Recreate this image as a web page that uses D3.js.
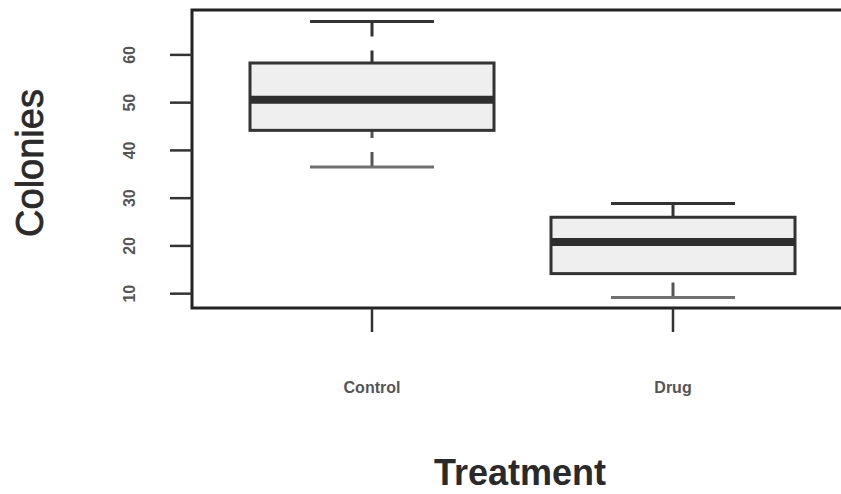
<!DOCTYPE html>
<html>
<head>
<meta charset="utf-8">
<script src="https://cdn.jsdelivr.net/npm/d3@7/dist/d3.min.js"></script>
<style>
  body { margin: 0; background: #fff; }
  svg { display: block; font-family: 'Liberation Sans', Arial, sans-serif; }
</style>
</head>
<body>
<div id="chart"></div>
<script>
// box plot data
const treatments = ['Control', 'Drug'];
const whiskerLow = [36.5, 9.2];
const q1 = [44.2, 14.2];
const medians = [50.6, 20.8];
const q3 = [58.3, 26.0];
const whiskerHigh = [67.0, 28.9];
const yTicks = [10, 20, 30, 40, 50, 60];

const width = 841;
const height = 494;
const plot = { left: 192, top: 10, right: 905, bottom: 308 };

const svg = d3.select('#chart')
    .append('svg')
    .attr('width', width)
    .attr('height', height);

const y = d3.scaleLinear()
    .domain([7.0, 69.4])
    .range([plot.bottom, plot.top]);

const x = d3.scalePoint()
    .domain(treatments)
    .range([372, 673]);

const boxHalf = 122;
const capHalf = 62;

const boxes = treatments.map((t, i) => ({
  name: t,
  lo: whiskerLow[i], q1: q1[i], med: medians[i], q3: q3[i], hi: whiskerHigh[i]
}));

const g = svg.append('g');

// whiskers (dashed, from cap to box)
g.selectAll('line.wup')
    .data(boxes)
    .enter()
    .append('line').attr('class', 'wup')
    .attr('x1', d => x(d.name)).attr('x2', d => x(d.name))
    .attr('y1', d => y(d.hi)).attr('y2', d => y(d.q3))
    .attr('stroke', '#333').attr('stroke-width', 3)
    .attr('stroke-dasharray', '15 14');

g.selectAll('line.wdn')
    .data(boxes)
    .enter()
    .append('line').attr('class', 'wdn')
    .attr('x1', d => x(d.name)).attr('x2', d => x(d.name))
    .attr('y1', d => y(d.lo)).attr('y2', d => y(d.q1))
    .attr('stroke', '#555').attr('stroke-width', 3)
    .attr('stroke-dasharray', '15 14');

// caps
g.selectAll('line.capup')
    .data(boxes)
    .enter()
    .append('line').attr('class', 'capup')
    .attr('x1', d => x(d.name) - capHalf).attr('x2', d => x(d.name) + capHalf)
    .attr('y1', d => y(d.hi)).attr('y2', d => y(d.hi))
    .attr('stroke', '#333').attr('stroke-width', 3);

g.selectAll('line.capdn')
    .data(boxes)
    .enter()
    .append('line').attr('class', 'capdn')
    .attr('x1', d => x(d.name) - capHalf).attr('x2', d => x(d.name) + capHalf)
    .attr('y1', d => y(d.lo)).attr('y2', d => y(d.lo))
    .attr('stroke', '#707070').attr('stroke-width', 3);

// boxes
g.selectAll('rect.box')
    .data(boxes)
    .enter()
    .append('rect').attr('class', 'box')
    .attr('x', d => x(d.name) - boxHalf)
    .attr('width', boxHalf * 2)
    .attr('y', d => y(d.q3))
    .attr('height', d => y(d.q1) - y(d.q3))
    .attr('fill', '#efefef')
    .attr('stroke', '#333')
    .attr('stroke-width', 3);

// medians
g.selectAll('line.med')
    .data(boxes)
    .enter()
    .append('line').attr('class', 'med')
    .attr('x1', d => x(d.name) - boxHalf).attr('x2', d => x(d.name) + boxHalf)
    .attr('y1', d => y(d.med)).attr('y2', d => y(d.med))
    .attr('stroke', '#2e2e2e').attr('stroke-width', 8);

// plot frame (right side runs off the picture)
svg.append('rect')
    .attr('x', plot.left).attr('y', plot.top)
    .attr('width', plot.right - plot.left)
    .attr('height', plot.bottom - plot.top)
    .attr('fill', 'none')
    .attr('stroke', '#222')
    .attr('stroke-width', 3);

// y axis ticks + rotated labels
svg.selectAll('line.ytick')
    .data(yTicks)
    .enter()
    .append('line').attr('class', 'ytick')
    .attr('x1', plot.left - 22).attr('x2', plot.left)
    .attr('y1', d => y(d)).attr('y2', d => y(d))
    .attr('stroke', '#333').attr('stroke-width', 2.5);

svg.selectAll('text.ylab')
    .data(yTicks)
    .enter()
    .append('text').attr('class', 'ylab')
    .attr('transform', d => 'translate(135,' + y(d) + ') rotate(-90)')
    .attr('text-anchor', 'middle')
    .attr('font-size', 16)
    .attr('font-weight', 'bold')
    .attr('fill', '#555')
    .text(d => d);

// x axis ticks + labels
svg.selectAll('line.xtick')
    .data(treatments)
    .enter()
    .append('line').attr('class', 'xtick')
    .attr('x1', d => x(d)).attr('x2', d => x(d))
    .attr('y1', plot.bottom).attr('y2', plot.bottom + 24)
    .attr('stroke', '#333').attr('stroke-width', 2.5);

svg.selectAll('text.xlab')
    .data(treatments)
    .enter()
    .append('text').attr('class', 'xlab')
    .attr('x', d => x(d))
    .attr('y', 393)
    .attr('text-anchor', 'middle')
    .attr('font-size', 16)
    .attr('font-weight', 'bold')
    .attr('fill', '#555')
    .text(d => d);

// axis titles
svg.append('text')
    .attr('x', 520).attr('y', 485)
    .attr('text-anchor', 'middle')
    .attr('font-size', 36)
    .attr('font-weight', 'bold')
    .attr('fill', '#2a2a2a')
    .text('Treatment');

svg.append('text')
    .attr('transform', 'translate(43,163) rotate(-90)')
    .attr('text-anchor', 'middle')
    .attr('font-size', 38)
    .attr('fill', '#2a2a2a')
    .style('stroke', '#2a2a2a')
    .style('stroke-width', 0.8)
    .text('Colonies');
</script>
</body>
</html>
